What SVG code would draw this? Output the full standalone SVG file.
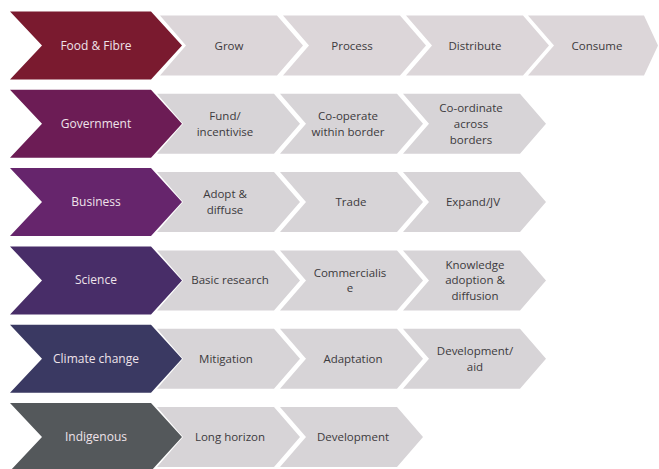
<svg xmlns="http://www.w3.org/2000/svg" xmlns:xlink="http://www.w3.org/1999/xlink" width="659" height="469" viewBox="0 0 659 469">
  <style>
    .lead-label { font-family: "Open Sans", "Noto Sans", "DejaVu Sans", sans-serif; font-size: 12px; fill: #efe3ea; text-anchor: middle; }
    .step-label { font-family: "Open Sans", "Noto Sans", "DejaVu Sans", sans-serif; font-size: 11.5px; fill: #3c3a3d; text-anchor: middle; }
    .step { fill: #d7d4d7; }
    .step-warm { fill: #dcd6d9; }
  </style>
  <defs>
    <!-- large coloured chevron, origin at left edge / vertical centre -->
    <path id="lead" d="M0,-34 L141,-34 L172,0 L141,34 L0,34 L32,0 Z"/>
    <!-- light grey step chevron -->
    <path id="stepShape" d="M0,-30 L117,-30 L143,0 L117,30 L0,30 L26,0 Z"/>
  </defs>
  <rect width="659" height="469" fill="#ffffff"/>

  <!-- Row 1: Food & Fibre -->
  <g id="row-food">
    <g id="food-grow"><use xlink:href="#stepShape" class="step-warm" x="160" y="45.5"/><text class="step-label" x="229" y="49.5">Grow</text></g>
    <g id="food-process"><use xlink:href="#stepShape" class="step-warm" x="283" y="45.5"/><text class="step-label" x="352" y="49.5">Process</text></g>
    <g id="food-distribute"><use xlink:href="#stepShape" class="step-warm" x="406" y="45.5"/><text class="step-label" x="475" y="49.5">Distribute</text></g>
    <g id="food-consume"><path class="step-warm" d="M528,15.5 L644,15.5 L658,45.5 L644,75.5 L528,75.5 L554,45.5 Z"/><text class="step-label" x="597" y="49.5">Consume</text></g>
    <g id="food-lead"><use xlink:href="#lead" fill="#7a1a2f" x="10" y="45.5"/><text class="lead-label" x="96" y="49.5">Food &amp; Fibre</text></g>
  </g>

  <!-- Row 2: Government -->
  <g id="row-government">
    <g id="gov-fund"><use xlink:href="#stepShape" class="step" x="157" y="123.8"/><text class="step-label" x="225"><tspan x="225" y="119.9">Fund/</tspan><tspan x="225" y="135.6">incentivise</tspan></text></g>
    <g id="gov-cooperate"><use xlink:href="#stepShape" class="step" x="280" y="123.8"/><text class="step-label" x="348"><tspan x="348" y="119.9">Co-operate</tspan><tspan x="348" y="135.6">within border</tspan></text></g>
    <g id="gov-coordinate"><use xlink:href="#stepShape" class="step" x="403" y="123.8"/><text class="step-label" x="471"><tspan x="471" y="112.1">Co-ordinate</tspan><tspan x="471" y="127.8">across</tspan><tspan x="471" y="143.5">borders</tspan></text></g>
    <g id="gov-lead"><use xlink:href="#lead" fill="#6c1c55" x="10" y="123.8"/><text class="lead-label" x="96" y="127.8">Government</text></g>
  </g>

  <!-- Row 3: Business -->
  <g id="row-business">
    <g id="bus-adopt"><use xlink:href="#stepShape" class="step" x="157" y="202.1"/><text class="step-label" x="225"><tspan x="225" y="198.2">Adopt &amp;</tspan><tspan x="225" y="213.9">diffuse</tspan></text></g>
    <g id="bus-trade"><use xlink:href="#stepShape" class="step" x="280" y="202.1"/><text class="step-label" x="351" y="206.1">Trade</text></g>
    <g id="bus-expand"><use xlink:href="#stepShape" class="step" x="403" y="202.1"/><text class="step-label" x="473" y="206.1">Expand/JV</text></g>
    <g id="bus-lead"><use xlink:href="#lead" fill="#66256c" x="10" y="202.1"/><text class="lead-label" x="96" y="206.1">Business</text></g>
  </g>

  <!-- Row 4: Science -->
  <g id="row-science">
    <g id="sci-basic"><use xlink:href="#stepShape" class="step" x="157" y="280.4"/><text class="step-label" x="230" y="284.4">Basic research</text></g>
    <g id="sci-commercialise"><use xlink:href="#stepShape" class="step" x="280" y="280.4"/><text class="step-label" x="350"><tspan x="350" y="276.5">Commercialis</tspan><tspan x="350" y="292.2">e</tspan></text></g>
    <g id="sci-knowledge"><use xlink:href="#stepShape" class="step" x="403" y="280.4"/><text class="step-label" x="475"><tspan x="475" y="268.7">Knowledge</tspan><tspan x="475" y="284.4">adoption &amp;</tspan><tspan x="475" y="300.1">diffusion</tspan></text></g>
    <g id="sci-lead"><use xlink:href="#lead" fill="#482d68" x="10" y="280.4"/><text class="lead-label" x="96" y="284.4">Science</text></g>
  </g>

  <!-- Row 5: Climate change -->
  <g id="row-climate">
    <g id="cli-mitigation"><use xlink:href="#stepShape" class="step" x="157" y="358.7"/><text class="step-label" x="226" y="362.7">Mitigation</text></g>
    <g id="cli-adaptation"><use xlink:href="#stepShape" class="step" x="280" y="358.7"/><text class="step-label" x="353" y="362.7">Adaptation</text></g>
    <g id="cli-development"><use xlink:href="#stepShape" class="step" x="403" y="358.7"/><text class="step-label" x="475"><tspan x="475" y="354.8">Development/</tspan><tspan x="475" y="370.5">aid</tspan></text></g>
    <g id="cli-lead"><use xlink:href="#lead" fill="#3a3962" x="10" y="358.7"/><text class="lead-label" x="96" y="362.7">Climate change</text></g>
  </g>

  <!-- Row 6: Indigenous -->
  <g id="row-indigenous">
    <g id="ind-horizon"><use xlink:href="#stepShape" class="step" x="157" y="437"/><text class="step-label" x="230" y="441">Long horizon</text></g>
    <g id="ind-development"><use xlink:href="#stepShape" class="step" x="280" y="437"/><text class="step-label" x="353" y="441">Development</text></g>
    <g id="ind-lead"><use xlink:href="#lead" fill="#54585b" x="10" y="437"/><text class="lead-label" x="96" y="441">Indigenous</text></g>
  </g>
</svg>
